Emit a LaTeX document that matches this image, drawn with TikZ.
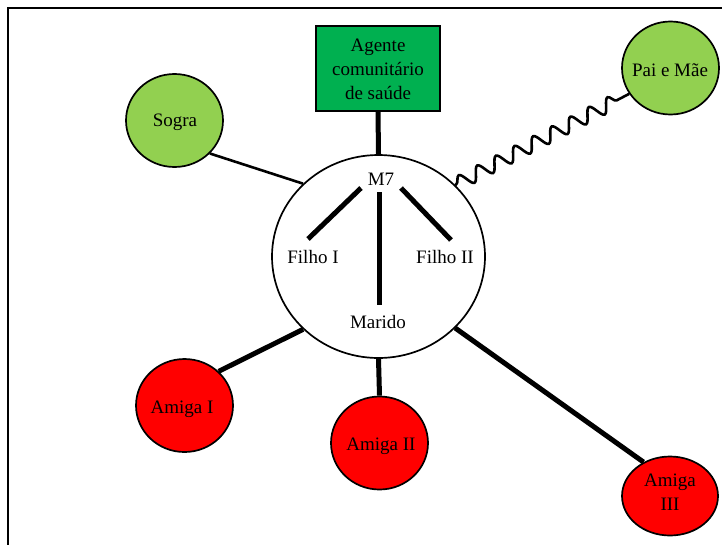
\documentclass[tikz,border=0pt]{standalone}
\usepackage{fontspec}
\setmainfont{Liberation Serif}
\usetikzlibrary{shapes.geometric,decorations.pathmorphing}
\definecolor{lightgreen}{HTML}{92D050}
\definecolor{agentgreen}{HTML}{00B050}
\definecolor{friendred}{HTML}{FF0000}

\begin{document}
\begin{tikzpicture}[x=1pt,y=-1pt,
  every node/.style={font=\fontsize{19}{24}\selectfont},
  person/.style={ellipse, draw, line width=1.7pt, inner sep=0pt,
    minimum width=97pt, minimum height=93pt},
  family/.style={person, fill=lightgreen},
  friend/.style={person, fill=friendred},
  lbl/.style={inner sep=0pt, align=center, text depth=0pt},
  tie/.style={line width=5pt},
  weak/.style={line width=2.6pt},
  stress/.style={line width=2.6pt, decorate,
    decoration={snake, segment length=21pt, amplitude=7pt,
      pre length=1pt, post length=4pt}}
]
\useasboundingbox (0,0) rectangle (722,544);
\clip (0,0) rectangle (722,544);
% outer frame
\draw[line width=1.3pt] (8,8) rectangle (740,560);

% central household
\node[ellipse, draw, line width=1.7pt, fill=white, inner sep=0pt,
  minimum width=213pt, minimum height=203pt] (house) at (378.5,256.5) {};
\node[lbl] (m7) at (381,179) {M7};
\node[lbl] (filho1) at (313,257) {Filho I};
\node[lbl] (filho2) at (445,257) {Filho II};
\node[lbl] (marido) at (378,322) {Marido};

\coordinate (m7a) at (361,188);
\coordinate (f1a) at (308,239);
\coordinate (m7b) at (379,192);
\coordinate (mra) at (379,305);
\coordinate (m7c) at (401,188);
\coordinate (f2a) at (451,240);
\draw[tie] (m7a) -- (f1a);
\draw[tie] (m7b) -- (mra);
\draw[tie] (m7c) -- (f2a);

% health agent
\node[draw, fill=agentgreen, line width=1.7pt, inner sep=0pt,
  minimum width=124pt, minimum height=85pt] (agente) at (378,68.5) {};
\node[lbl] (agentetxt) at (378,69.5) {Agente\\comunitário\\de saúde};

% family outside the household
\node[family] (sogra) at (174.5,120.5) {};
\node[lbl] (sogratxt) at (175,120) {Sogra};
\node[family] (pai) at (670.5,68) {};
\node[lbl] (paitxt) at (670,70) {Pai e Mãe};

% friends
\node[friend] (amiga1) at (184.5,405.5) {};
\node[lbl] (amiga1txt) at (182,407) {Amiga I};
\node[friend] (amiga2) at (379.5,443) {};
\node[lbl] (amiga2txt) at (381,444) {Amiga II};
\node[friend, minimum width=96pt, minimum height=79pt] (amiga3) at (670,496) {};
\node[lbl] (amiga3txt) at (670,492) {Amiga\\III};

% links
\draw[tie] (agente.south) -- (house.north);
\draw[weak] (sogra.-43) -- (house.136.6);
\draw[stress] (house.43.5) -- (pai.212);
\draw[tie] (amiga1.45) -- (house.224);
\draw[tie] (amiga2.north) -- (house.south);
\draw[tie] (amiga3.128) -- (house.-43.5);
\end{tikzpicture}
\end{document}
